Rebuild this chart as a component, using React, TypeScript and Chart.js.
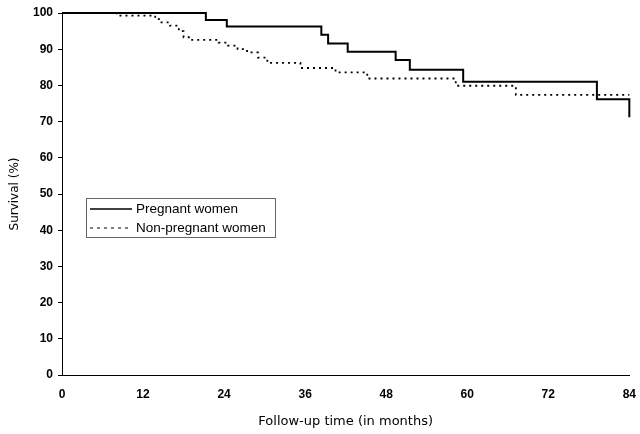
import React, { useEffect, useRef } from "react";
import { Chart, registerables } from "chart.js";

Chart.register(...registerables);

const pregnantMonths = [0, 21.3, 24.4, 38.4, 39.4, 42.3, 49.4, 51.5, 59.4, 79.2, 84];
const pregnantSurvival = [100, 98.1, 96.3, 94.0, 91.6, 89.3, 87.0, 84.3, 81.0, 76.2, 71.2];

const nonPregnantMonths = [0, 8.1, 13.8, 14.5, 16.0, 17.3, 18.0, 19.0, 23.2, 24.6, 26.0, 27.4, 29.0, 30.4, 35.3, 40.5, 45.2, 58.3, 67.2, 84];
const nonPregnantSurvival = [100, 99.3, 98.3, 97.4, 96.5, 95.0, 93.3, 92.6, 91.8, 91.0, 90.0, 89.1, 87.7, 86.2, 84.8, 83.6, 81.9, 79.9, 77.4, 77.4];

const xTickValues = [0, 12, 24, 36, 48, 60, 72, 84];
const yTickValues = [0, 10, 20, 30, 40, 50, 60, 70, 80, 90, 100];
const seriesLabels = ["Pregnant women", "Non-pregnant women"];
const xTitle = "Follow-up time (in months)";
const yTitle = "Survival (%)";

const legendPlugin = {
  id: "boxLegend",
  afterDraw(chart: any) {
    const ctx = chart.ctx;
    const bx = 86.5, by = 198.5, bw = 189, bh = 39;
    ctx.save();
    ctx.strokeStyle = "#666";
    ctx.lineWidth = 1;
    ctx.setLineDash([]);
    ctx.strokeRect(bx, by, bw, bh);
    const rows = [209, 228];
    chart.data.datasets.forEach((ds: any, i: number) => {
      const y = rows[i];
      ctx.beginPath();
      ctx.strokeStyle = "#000";
      ctx.lineWidth = i === 0 ? 1.6 : 1.2;
      ctx.setLineDash(i === 0 ? [] : [3, 4]);
      ctx.moveTo(90, y);
      ctx.lineTo(132, y);
      ctx.stroke();
      ctx.setLineDash([]);
      ctx.fillStyle = "#000";
      ctx.font = "13.5px 'Liberation Sans', Arial, sans-serif";
      ctx.textBaseline = "middle";
      ctx.textAlign = "left";
      ctx.fillText(ds.label, 136, y);
    });
    ctx.restore();
  },
};

export default function App() {
  const canvasRef = useRef<HTMLCanvasElement | null>(null);

  useEffect(() => {
    document.body.style.margin = "0";
    const canvas = canvasRef.current;
    if (!canvas) return;
    const chart = new Chart(canvas, {
      type: "line",
      data: {
        datasets: [
          {
            label: seriesLabels[0],
            data: pregnantMonths.map((m, i) => ({ x: m, y: pregnantSurvival[i] })),
            borderColor: "#000",
            borderWidth: 2,
            stepped: "before",
            pointRadius: 0,
            fill: false,
            clip: 6,
          },
          {
            label: seriesLabels[1],
            data: nonPregnantMonths.map((m, i) => ({ x: m, y: nonPregnantSurvival[i] })),
            borderColor: "#000",
            borderWidth: 1.8,
            borderDash: [2, 4],
            stepped: "before",
            pointRadius: 0,
            fill: false,
            clip: 6,
          },
        ],
      },
      options: {
        responsive: false,
        animation: false,
        devicePixelRatio: 1,
        layout: { padding: { left: 0, right: 7, top: 13, bottom: 0 } },
        plugins: {
          legend: { display: false },
          tooltip: { enabled: false },
        },
        scales: {
          x: {
            type: "linear",
            min: 0,
            max: 84,
            afterBuildTicks: (scale: any) => {
              scale.ticks = xTickValues.map((v) => ({ value: v }));
            },
            afterFit: (scale: any) => {
              scale.height = 59;
            },
            grid: { display: false },
            border: { display: true, color: "#000", width: 1 },
            ticks: {
              color: "#000",
              font: { family: "'Liberation Sans', Arial, sans-serif", size: 12, weight: "bold" },
              padding: 4,
              maxRotation: 0,
            },
            title: {
              display: true,
              text: xTitle,
              color: "#000",
              font: { family: "'DejaVu Sans', sans-serif", size: 13 },
              padding: { top: 4, bottom: 5 },
            },
          },
          y: {
            type: "linear",
            min: 0,
            max: 100,
            afterBuildTicks: (scale: any) => {
              scale.ticks = yTickValues.map((v) => ({ value: v }));
            },
            afterFit: (scale: any) => {
              scale.width = 62;
            },
            grid: {
              display: true,
              drawOnChartArea: false,
              drawTicks: true,
              tickLength: 4,
              color: "#000",
            },
            border: { display: true, color: "#000", width: 1 },
            ticks: {
              color: "#000",
              font: { family: "'Liberation Sans', Arial, sans-serif", size: 12, weight: "bold" },
              padding: 5,
            },
            title: {
              display: true,
              text: yTitle,
              color: "#000",
              font: { family: "'DejaVu Sans', sans-serif", size: 12 },
              padding: { top: 8, bottom: 4 },
            },
          },
        },
      },
      plugins: [legendPlugin],
    });
    return () => chart.destroy();
  }, []);

  return (
    <div style={{ width: 640, height: 434 }}>
      <canvas ref={canvasRef} width={640} height={434} />
    </div>
  );
}
